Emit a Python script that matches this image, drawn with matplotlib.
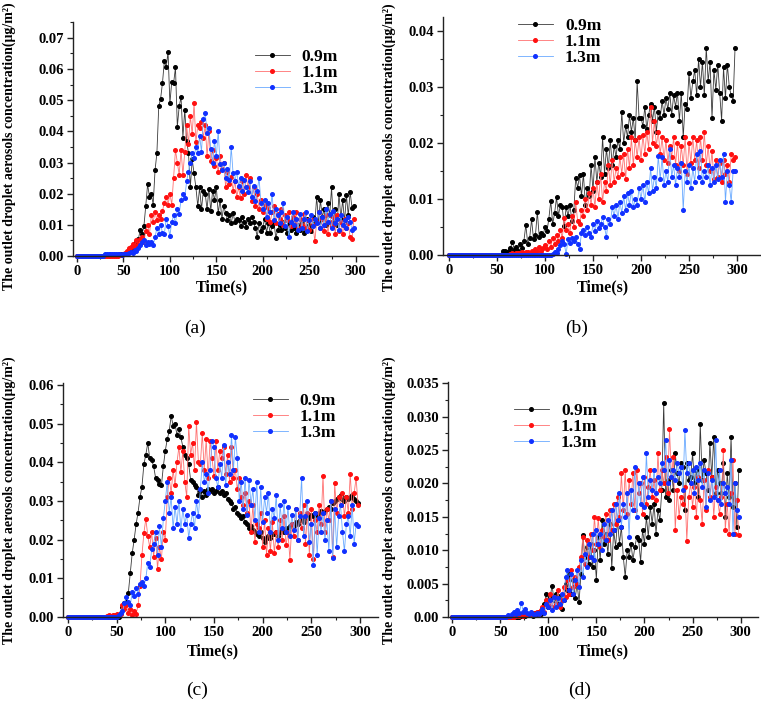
import numpy as np
import matplotlib
matplotlib.use("Agg")
import matplotlib.pyplot as plt
from matplotlib.ticker import MultipleLocator, FixedLocator, FixedFormatter

plt.rcParams['font.family'] = ['Liberation Serif', 'DejaVu Serif']

# time axis (s), one sample every 2 s
time_s = np.arange(0, 300, 2)
series_labels = ["0.9m", "1.1m", "1.3m"]

# values in units of 1e-3 ug/m^2
a09 = [0,0,0,0,0,0,0,0,0,0,
       0,0,0,0,0,0.2,0.3,0.3,0.4,0.3,
       0.3,0.4,0.3,0.5,0.6,0.5,0.8,1.2,2.0,2.5,
       3.0,3.8,4.5,5.3,8.3,7.0,9.5,16.0,23.0,19.0,
       20.0,16.5,27.5,33.0,48.0,50.5,55.5,62.5,60.5,65.5,
       49.0,56.0,55.5,60.5,41.5,48.0,51.0,38.0,47.0,37.0,
       33.0,22.0,31.0,26.5,22.0,16.0,22.0,15.0,21.0,20.0,
       15.0,21.5,14.5,21.0,18.0,22.0,13.7,18.0,12.0,16.0,
       13.7,11.5,13.0,10.5,13.7,11.0,12.0,11.5,9.5,12.6,
       11.0,9.4,12.0,10.5,12.6,11.0,9.0,6.2,10.5,8.0,
       9.4,12.0,7.5,10.5,7.3,9.5,11.0,5.7,8.5,10.0,
       8.3,11.0,9.0,7.5,10.5,8.3,12.0,9.0,7.3,10.0,
       8.5,11.0,7.3,9.0,12.0,10.0,8.0,12.6,10.5,19.0,
       11.0,18.0,12.5,15.0,10.0,17.0,13.0,22.0,11.0,15.0,
       10.0,20.0,12.0,18.0,11.0,19.5,13.0,20.6,15.5,16.0]
a11 = [0,0,0,0,0,0,0,0,0,0,
       0,0,0,0,0,0,0,0,0,0,
       0,0,0.1,0.2,0.3,0.5,1.0,1.5,2.5,3.0,
       4.0,3.0,5.0,4.0,5.5,6.0,4.5,8.0,10.0,7.0,
       13.0,11.0,14.0,11.5,13.0,12.0,14.5,17.0,19.0,16.5,
       20.0,16.5,25.0,34.0,30.0,26.0,34.0,26.0,33.5,42.0,
       36.0,45.0,39.0,49.0,36.5,42.0,41.0,43.0,38.0,42.0,
       32.0,40.0,30.5,34.0,29.0,31.5,27.0,32.0,28.0,30.0,
       22.0,27.0,23.0,25.5,21.0,24.0,19.0,22.0,18.5,24.0,
       20.0,26.0,22.0,25.0,17.5,22.0,16.0,20.0,15.0,18.0,
       14.0,16.5,12.0,15.5,11.0,14.0,16.0,10.5,13.5,12.0,
       15.0,10.0,13.0,11.5,14.0,9.5,12.5,10.5,14.0,9.0,
       12.0,10.0,13.5,9.0,11.5,8.5,12.0,10.0,4.7,11.0,
       14.0,9.0,12.0,8.0,13.0,7.0,11.0,9.5,12.5,7.0,
       13.0,8.0,11.0,7.0,12.0,9.0,10.5,6.0,5.5,12.0]
a13 = [0,0,0,0,0,0,0,0,0,0,
       0,0,0,0,0,0.5,0.5,0.6,0.5,0.8,
       0.5,0.6,0.5,0.5,0.4,0.6,0.5,0.8,1.0,1.2,
       1.0,2.0,1.5,2.5,3.5,4.5,5.0,3.5,4.5,4.0,
       4.5,3.5,6.0,9.0,7.0,10.0,7.5,7.0,12.0,9.5,
       6.5,11.0,13.0,10.5,15.0,13.5,18.0,20.0,18.5,24.0,
       27.0,30.0,33.0,31.5,35.0,33.0,38.5,33.5,44.0,46.0,
       39.5,41.0,34.5,30.0,37.0,32.0,40.0,29.5,27.5,30.0,
       25.0,28.0,24.5,35.0,26.5,24.0,27.0,22.5,25.0,21.0,
       24.5,22.0,20.5,24.0,19.0,22.5,17.5,21.0,25.0,17.0,
       15.0,18.0,12.5,17.0,14.0,20.0,11.5,15.0,13.0,10.5,
       14.0,17.0,9.5,12.5,6.0,11.0,14.0,10.0,12.0,8.5,
       13.5,9.0,12.0,14.0,8.0,11.5,13.0,9.5,12.0,10.5,
       14.0,9.0,12.5,10.0,15.0,11.0,13.5,9.0,14.5,10.5,
       12.0,8.5,13.0,10.0,11.5,9.0,12.5,11.0,8.5,9.0]

b09 = [0,0,0,0,0,0,0,0,0,0,
       0,0,0,0,0,0,0,0,0,0,
       0,0,0,0,0,0,0,0,0.8,0.7,
       0.5,0.8,1.2,2.4,0.9,1.5,0.8,2.0,1.2,2.5,
       5.4,2.0,3.0,6.4,2.8,3.5,7.7,3.2,4.0,3.5,
       5.0,4.2,6.5,9.7,5.5,7.5,10.3,7.0,9.0,8.5,
       5.2,8.5,7.0,9.0,6.0,8.0,13.8,12.0,14.2,10.5,
       14.5,9.0,12.0,10.5,16.0,11.5,17.5,13.0,16.5,14.0,
       21.0,14.5,19.0,15.5,20.5,16.0,19.5,17.5,20.5,19.0,
       25.5,20.0,23.0,21.0,25.0,22.0,24.5,20.5,31.0,24.5,
       24.5,23.0,26.5,22.5,25.0,27.0,24.0,26.5,22.0,25.5,
       24.5,27.5,25.0,28.0,26.0,29.0,25.0,28.5,26.5,29.0,
       24.0,29.0,21.0,27.0,26.0,32.5,28.0,31.0,33.0,28.5,
       35.0,30.0,34.5,28.5,37.0,31.0,34.5,24.5,33.0,29.5,
       34.0,29.0,24.0,33.5,28.0,34.0,30.0,28.5,27.5,37.0]
b11 = [0,0,0,0,0,0,0,0,0,0,
       0,0,0,0,0,0,0,0,0,0,
       0,0,0,0,0,0,0,0,0,0,
       0,0,0.2,0.3,0.2,0.3,0.4,0.3,0.5,0.4,
       0.5,0.6,0.4,0.8,0.5,1.0,0.7,1.5,0.8,1.2,
       1.8,1.0,2.5,1.5,3.0,2.0,3.5,2.5,4.5,3.0,
       6.6,4.5,5.5,4.0,7.0,5.0,9.4,6.0,5.5,8.0,
       7.0,10.0,8.0,11.0,9.0,12.0,8.5,13.0,10.0,14.5,
       9.5,13.0,11.5,16.0,12.5,17.0,13.0,15.5,14.0,17.5,
       14.5,18.0,13.5,19.0,15.5,21.0,16.0,20.5,17.5,21.0,
       17.0,21.5,18.0,22.0,19.0,26.5,20.0,24.0,19.5,22.0,
       18.0,21.0,17.0,20.5,16.5,19.5,17.5,21.0,16.0,20.0,
       15.0,19.5,16.0,21.0,14.5,20.0,16.5,21.0,17.0,20.5,
       15.5,21.0,17.0,21.9,16.0,19.5,15.0,18.5,13.5,17.0,
       14.0,16.5,13.0,17.0,14.5,16.0,13.0,18.0,17.0,17.5]
b13 = [0,0,0,0,0,0,0,0,0,0,
       0,0,0,0,0,0,0,0,0,0,
       0,0,0,0,0,0,0,0,0,0,
       0,0,0,0,0,0,0,0,0,0,
       0,0,0,0,0,0,0,0,0,0,
       0,0,0,0,0.2,0.5,0.3,1.0,1.8,2.5,
       2.0,0.2,2.8,2.2,3.0,2.5,3.2,2.0,1.0,4.0,
       4.5,3.5,5.0,4.0,3.2,5.5,4.2,6.0,4.8,5.5,
       6.7,5.0,3.2,6.5,5.5,8.5,7.0,9.0,6.5,9.5,
       7.5,10.5,8.0,11.0,9.0,11.5,8.5,10.0,9.0,12.0,
       10.0,12.5,9.5,13.0,11.0,15.5,11.5,14.0,12.0,17.7,
       13.5,17.5,12.5,15.0,13.0,19.0,14.0,16.0,12.5,15.5,
       14.0,16.5,8.0,15.0,13.0,16.0,12.0,15.5,13.0,18.0,
       14.0,18.5,13.0,15.0,14.0,16.0,12.5,15.5,13.0,16.0,
       13.5,17.0,14.0,18.0,9.5,15.0,12.5,9.5,15.0,15.0]

c09 = [0,0,0,0,0,0,0,0,0,0,
       0,0,0,0,0,0,0,0,0,0,
       0,0,0,0,0,0,0,1.0,2.5,3.6,
       4.0,6.2,11.4,16.5,20.0,24.0,27.0,31.0,33.7,39.5,
       42.0,45.0,41.0,40.5,39.0,36.0,35.5,34.5,34.0,39.0,
       43.0,46.0,48.0,52.0,49.5,50.0,47.0,48.5,46.5,44.0,
       42.0,41.0,39.5,35.5,35.0,34.0,33.5,31.5,32.5,31.0,
       32.5,31.5,33.0,32.5,33.0,32.0,32.5,33.5,32.0,32.5,
       31.5,32.0,30.5,30.0,29.5,28.0,28.5,27.0,26.5,25.5,
       26.0,24.5,24.0,23.0,23.5,22.5,22.0,21.5,21.0,22.0,
       20.5,19.5,20.5,21.0,20.5,21.5,21.5,22.0,21.0,22.0,
       22.5,22.0,23.0,22.5,23.5,24.0,23.5,24.5,24.0,25.0,
       25.0,24.5,25.5,26.0,25.5,26.5,26.0,27.0,26.5,27.0,
       27.5,27.0,27.5,28.0,28.5,28.0,29.5,30.0,30.5,31.0,
       31.5,30.5,30.0,31.0,30.5,31.0,31.5,30.5,30.0,29.5]
c11 = [0,0,0,0,0,0,0,0,0,0,
       0,0,0,0,0,0,0,0,0,0,
       0.3,0.5,0.2,0.6,0.4,0.8,0.5,0.7,3.2,2.0,
       3.0,1.0,2.0,0.5,1.5,0.8,3.0,8.0,16.0,21.7,
       25.4,21.0,18.0,22.0,15.5,20.5,12.5,18.0,15.0,22.0,
       20.0,31.0,36.0,32.0,38.0,34.0,40.0,44.0,37.5,43.0,
       35.0,31.0,49.5,42.0,45.0,38.0,50.5,40.0,39.5,47.5,
       38.0,46.0,36.0,45.5,41.0,36.5,45.5,38.0,43.0,41.0,
       44.0,37.0,42.0,35.0,44.0,36.0,38.0,33.0,36.0,31.0,
       29.0,32.0,27.0,30.0,22.0,29.0,19.3,24.0,23.0,27.0,
       18.0,25.0,16.0,23.0,17.0,24.5,16.5,22.0,18.0,25.0,
       20.0,26.0,18.5,22.0,14.8,24.0,21.0,28.0,20.0,27.0,
       23.0,29.0,19.0,27.0,16.0,28.0,15.0,25.0,22.0,29.0,
       24.0,36.5,22.0,28.0,25.0,30.0,15.5,34.6,27.0,31.0,
       29.0,32.0,26.0,31.0,27.0,37.0,28.0,32.0,36.0,29.0]
c13 = [0,0,0,0,0,0,0,0,0,0,
       0,0,0,0,0,0,0,0,0,0,
       0,0,0,0,0,0,0.5,1.0,1.5,3.5,
       5.2,4.0,3.0,6.5,5.5,7.5,6.0,8.5,9.0,8.0,
       10.0,14.0,13.0,17.5,19.0,22.0,16.0,23.4,18.0,25.5,
       30.0,35.0,27.0,31.0,23.0,28.5,24.0,30.0,22.5,28.0,
       24.0,26.5,20.5,24.0,27.0,23.0,30.0,26.0,33.0,40.0,
       35.0,37.0,32.0,38.0,45.5,44.0,36.0,33.5,39.5,36.0,
       44.5,34.0,40.0,37.0,47.0,38.0,46.5,41.0,30.0,35.0,
       28.0,36.0,26.5,35.5,29.0,33.0,25.0,35.0,22.0,33.5,
       24.5,31.0,27.0,32.0,22.0,28.0,25.5,31.5,20.0,29.0,
       23.0,30.0,22.0,28.5,21.0,26.5,22.5,28.0,20.0,26.0,
       36.0,21.0,26.0,30.0,19.5,24.0,13.5,27.0,16.0,25.5,
       22.0,27.0,20.0,25.0,17.0,30.0,15.2,28.0,18.0,26.0,
       29.0,22.0,17.0,24.0,26.0,21.0,29.0,19.0,24.0,23.5]

d09 = [0,0,0,0,0,0,0,0,0,0,
       0,0,0,0,0,0,0,0,0,0,
       0,0,0,0,0,0,0,0,0,0,
       0,0,0,0,0,0,0.2,0.3,0.2,0.4,
       0.3,0.5,0.2,0.6,0.4,0.8,0.5,1.0,2.0,3.5,
       1.5,3.0,4.7,2.5,3.5,2.0,3.2,1.2,2.5,5.0,
       4.0,6.5,3.5,5.5,2.8,5.0,2.2,6.5,12.3,9.0,
       10.5,8.0,11.0,7.5,10.0,5.6,12.0,8.5,14.5,11.0,
       12.5,9.5,14.0,7.3,13.0,10.5,14.5,11.0,13.5,9.0,
       6.0,10.0,9.0,11.0,8.5,10.5,12.0,11.5,8.3,13.0,
       11.0,15.0,12.0,16.5,14.0,17.0,12.5,16.0,14.5,19.0,
       32.1,18.0,20.5,17.5,22.0,19.0,24.5,21.5,20.0,23.0,
       22.5,16.0,23.0,20.5,21.0,24.5,20.0,22.0,18.0,28.9,
       20.5,23.5,21.5,19.0,26.0,21.0,27.0,18.5,22.0,20.0,
       18.5,23.0,15.0,21.5,18.0,27.0,16.5,20.0,13.5,22.0]
d11 = [0,0,0,0,0,0,0,0,0,0,
       0,0,0,0,0,0,0,0,0,0,
       0,0,0,0,0,0,0,0,0,0,
       0,0,0,0.2,0.3,0.1,0.4,0.2,0.5,0.3,
       0.5,0.3,0.6,0.4,0.8,0.5,1.0,1.5,0.8,2.5,
       2.0,3.5,1.5,3.0,2.0,4.0,1.5,2.5,4.5,3.0,
       5.5,3.5,7.0,4.5,6.0,5.0,7.5,9.0,12.0,8.0,
       11.5,9.0,12.5,10.0,15.0,11.0,14.8,10.5,13.0,12.0,
       15.5,11.5,16.0,13.0,17.0,14.0,18.0,15.0,21.5,16.0,
       22.0,15.5,20.5,17.0,21.5,16.0,22.0,18.5,20.0,15.5,
       21.0,17.0,19.5,22.0,18.0,20.5,17.5,24.5,19.0,22.0,
       20.0,24.0,18.5,28.1,21.0,24.0,13.0,19.0,15.0,18.0,
       17.0,19.5,11.4,18.0,20.0,16.5,19.5,15.0,21.0,17.5,
       14.0,20.5,16.0,22.0,18.0,21.0,15.0,19.5,17.5,15.5,
       18.0,25.0,13.0,17.0,12.5,18.5,23.5,12.5,17.5,12.3]
d13 = [0,0,0,0,0,0,0,0,0,0,
       0,0,0,0,0,0,0,0,0,0,
       0,0,0,0,0,0,0,0,0,0.3,
       0.2,0.5,0.8,0.4,1.0,0.6,2.1,0.8,1.2,0.6,
       0.4,0.8,0.5,0.3,0.6,0.4,0.8,1.2,0.6,2.0,
       1.5,2.5,1.0,3.0,1.5,2.8,2.0,3.5,2.5,6.0,
       7.1,4.0,6.5,3.5,5.5,7.0,4.5,8.5,6.0,9.5,
       7.5,11.0,9.0,12.5,8.5,13.0,11.0,12.5,10.0,14.0,
       11.5,14.5,12.5,16.0,13.0,17.0,14.5,18.5,13.5,17.0,
       15.0,18.5,12.0,19.0,16.0,22.4,15.0,20.0,17.0,21.0,
       16.5,24.5,18.0,20.5,19.0,22.0,18.5,21.0,20.0,23.0,
       22.0,26.5,20.0,23.5,21.0,22.0,20.5,23.0,21.5,22.5,
       19.0,28.0,21.5,23.0,20.0,22.0,18.5,22.5,20.5,23.0,
       19.5,22.0,16.5,21.5,17.5,20.5,18.0,26.5,17.5,22.0,
       17.0,20.0,18.5,19.5,17.0,23.5,12.5,20.0,16.0,15.0]

# y tick labels per panel
a_yticks = [0.00, 0.01, 0.02, 0.03, 0.04, 0.05, 0.06, 0.07]
a_ylabels = ["0.00", "0.01", "0.02", "0.03", "0.04", "0.05", "0.06", "0.07"]
b_yticks = [0.00, 0.01, 0.02, 0.03, 0.04]
b_ylabels = ["0.00", "0.01", "0.02", "0.03", "0.04"]
c_yticks = [0.00, 0.01, 0.02, 0.03, 0.04, 0.05, 0.06]
c_ylabels = ["0.00", "0.01", "0.02", "0.03", "0.04", "0.05", "0.06"]
d_yticks = [0.000, 0.005, 0.010, 0.015, 0.020, 0.025, 0.030, 0.035]
d_ylabels = ["0.00", "0.005", "0.010", "0.015", "0.020", "0.025", "0.030", "0.035"]
x_ticks = [0, 50, 100, 150, 200, 250, 300]

W, H = 761, 705
fig = plt.figure(figsize=(W / 100, H / 100), dpi=100)
fig.patch.set_facecolor('white')

def rect(l, r, t, b):
    return [l / W, 1 - b / H, (r - l) / W, (b - t) / H]

line_cols = ['#3a3a3a', '#ff7070', '#6aaaff']
mark_cols = ['#000000', '#ff1010', '#1030ff']

panels = [
    dict(rect=rect(73, 378, 22, 256), xlim=(-4.3, 324), ylim=(0, 0.0751),
         data=[a09, a11, a13], yt=a_yticks, yl=a_ylabels, ymin=0.005,
         ylab=(9, 146), xlab=(222, 287), tag=(195, 328), tagtxt='(a)', leg=(255, 49)),
    dict(rect=rect(443, 760, 17, 255), xlim=(-6.3, 324), ylim=(0, 0.0425),
         data=[b09, b11, b13], yt=b_yticks, yl=b_ylabels, ymin=0.005,
         ylab=(389, 147), xlab=(603, 287), tag=(577, 328), tagtxt='(b)', leg=(518, 18)),
    dict(rect=rect(63, 378, 383, 617), xlim=(-5.1, 318.5), ylim=(0, 0.0605),
         data=[c09, c11, c13], yt=c_yticks, yl=c_ylabels, ymin=0.005,
         ylab=(9, 500), xlab=(213, 651), tag=(197, 690), tagtxt='(c)', leg=(253, 393)),
    dict(rect=rect(448, 758, 382, 617), xlim=(-4.2, 318), ylim=(0, 0.0352),
         data=[d09, d11, d13], yt=d_yticks, yl=d_ylabels, ymin=0.0025,
         ylab=(389, 500), xlab=(603, 651), tag=(580, 690), tagtxt='(d)', leg=(514, 403)),
]

ylabel_txt = "The outlet droplet aerosols concentration(\u03bcg/m\u00b2)"

for p in panels:
    ax = fig.add_axes(p['rect'])
    for i, vals in enumerate(p['data']):
        ax.plot(time_s, np.array(vals) / 1000.0, '-', color=line_cols[i], lw=0.6,
                marker='o', ms=2.6, mfc=mark_cols[i], mec=mark_cols[i],
                label=series_labels[i], clip_on=False)
    ax.set_xlim(*p['xlim'])
    ax.set_ylim(*p['ylim'])
    for s in ['top', 'right']:
        ax.spines[s].set_visible(False)
    for s in ['left', 'bottom']:
        ax.spines[s].set_linewidth(1.0)
        ax.spines[s].set_color('#222222')
    ax.xaxis.set_major_locator(FixedLocator(x_ticks))
    ax.xaxis.set_major_formatter(FixedFormatter([str(v) for v in x_ticks]))
    ax.xaxis.set_minor_locator(MultipleLocator(25))
    ax.yaxis.set_major_locator(FixedLocator(p['yt']))
    ax.yaxis.set_major_formatter(FixedFormatter(p['yl']))
    ax.yaxis.set_minor_locator(MultipleLocator(p['ymin']))
    ax.tick_params(which='major', direction='out', length=4, width=1, color='#222222',
                   labelsize=10.5, pad=2.5)
    ax.tick_params(which='minor', direction='out', length=2.5, width=0.8, color='#222222')
    for lab in ax.get_xticklabels() + ax.get_yticklabels():
        lab.set_fontweight('bold')
    ax.legend(loc='upper left', bbox_to_anchor=(p['leg'][0] / W, 1 - p['leg'][1] / H),
              bbox_transform=fig.transFigure, frameon=False, borderpad=0,
              borderaxespad=0, handlelength=2.0, handletextpad=0.7,
              labelspacing=0.0, prop=dict(family='Liberation Serif', weight='bold', size=12.5))
    fig.text(p['ylab'][0] / W, 1 - p['ylab'][1] / H, ylabel_txt, rotation=90,
             ha='center', va='center', fontsize=10, fontweight='bold')
    fig.text(p['xlab'][0] / W, 1 - p['xlab'][1] / H, "Time(s)", ha='center', va='center',
             fontsize=11.5, fontweight='bold')
    fig.text(p['tag'][0] / W, 1 - p['tag'][1] / H, p['tagtxt'], ha='center', va='center',
             fontsize=14)

fig.savefig('out.png', dpi=100, facecolor='white')
